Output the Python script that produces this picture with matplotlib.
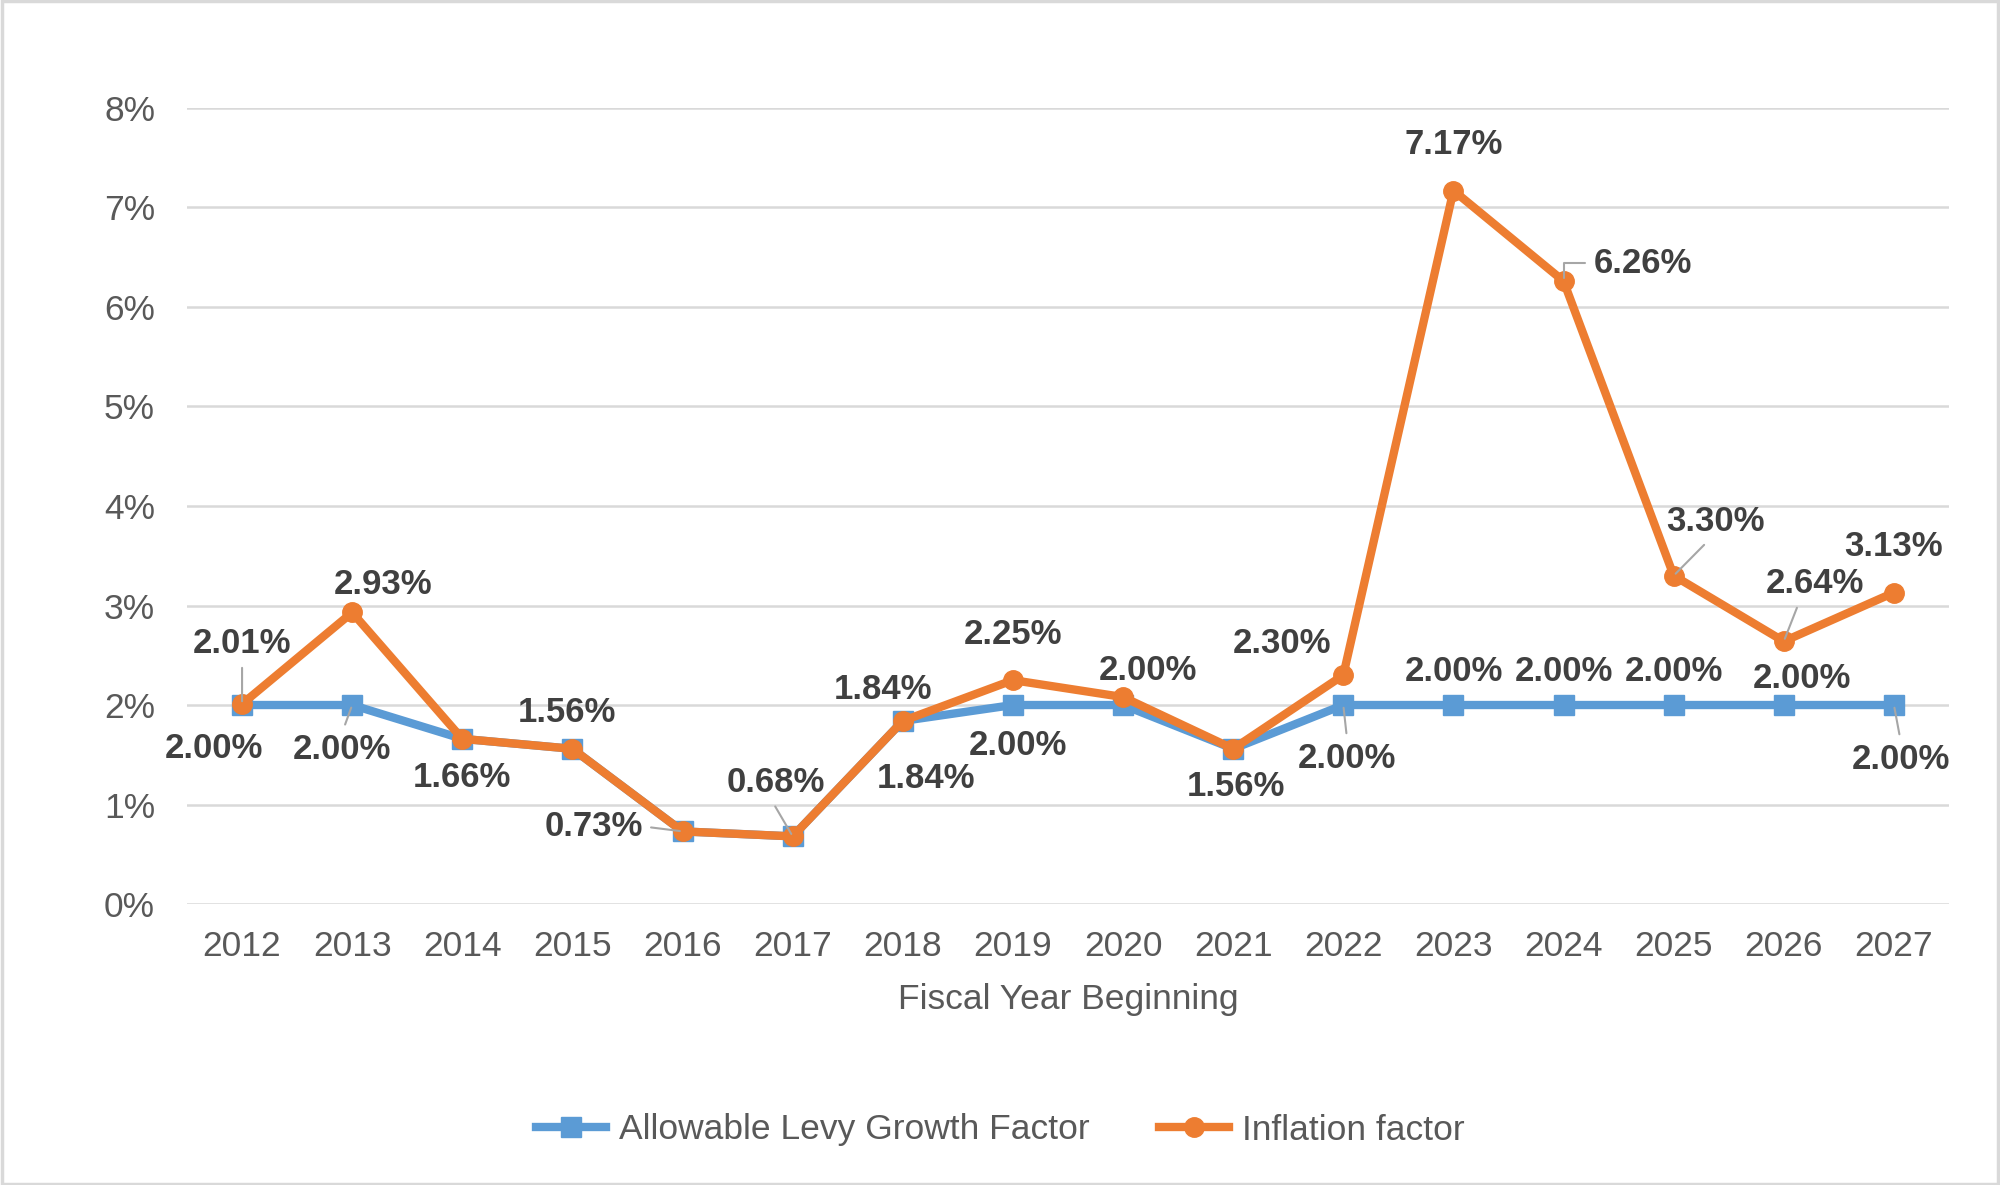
import matplotlib.pyplot as plt
from matplotlib.patches import Rectangle
from matplotlib.ticker import FuncFormatter

plt.rcParams['font.family'] = ['Liberation Sans', 'DejaVu Sans']

years = [str(y) for y in range(2012, 2028)]
levy = [2.00, 2.00, 1.66, 1.56, 0.73, 0.68, 1.84, 2.00, 2.00, 1.56, 2.00, 2.00, 2.00, 2.00, 2.00, 2.00]
inflation = [2.01, 2.93, 1.66, 1.56, 0.73, 0.68, 1.84, 2.25, 2.08, 1.56, 2.30, 7.17, 6.26, 3.30, 2.64, 3.13]

levy_label = "Allowable Levy Growth Factor"
infl_label = "Inflation factor"

blue = "#5B9BD5"
orange = "#ED7D31"
grid_col = "#D9D9D9"
tick_col = "#595959"
lab_col = "#404040"
lead_col = "#A6A6A6"

# label placement: (series, index, dx px, dy px, leader relpos or None)
placements = [
    ("i", 0, 0, -61, (0.5, 0.0)),
    ("l", 0, -28, 43, None),
    ("i", 1, 31, -28, None),
    ("l", 1, -10, 44, (0.5, 1.0)),
    ("l", 2, 0, 39, None),
    ("l", 3, -6, -36, None),
    ("l", 4, -89, -5, (1.0, 0.5)),
    ("l", 5, -17, -54, (0.45, 0.0)),
    ("i", 6, -20, -31, None),
    ("l", 6, 23, 58, None),
    ("i", 7, 0, -46, None),
    ("l", 7, 5, 40, None),
    ("l", 8, 25, -35, None),
    ("l", 9, 3, 38, None),
    ("i", 10, -61, -32, None),
    ("l", 10, 4, 53, (0.5, 1.0)),
    ("l", 11, 0, -34, None),
    ("l", 12, 0, -34, None),
    ("l", 13, 0, -34, None),
    ("l", 14, 18, -27, None),
    ("l", 15, 7, 54, (0.5, 1.0)),
    ("i", 11, 0, -46, None),
    ("i", 12, 79, -18, "elbow"),
    ("i", 13, 42, -54, (0.45, 0.0)),
    ("i", 14, 31, -58, (0.35, 0.0)),
    ("i", 15, 0, -46, None),
]

fig = plt.figure(figsize=(20, 11.85), dpi=100)
ax = fig.add_axes([0.0935, 0.2371, 0.881, 0.6718])

x = list(range(len(years)))
ax.plot(x, levy, color=blue, lw=6, marker="s", ms=14, label=levy_label, zorder=3)
ax.plot(x, inflation, color=orange, lw=6, marker="o", ms=14, label=infl_label, zorder=4)

for ser, i, dx, dy, lead in placements:
    vals = levy if ser == "l" else inflation
    kw = dict(textcoords="offset pixels", ha="center", va="center",
              fontsize=25, fontweight="bold", color=lab_col, zorder=6)
    if lead == "elbow":
        kw["arrowprops"] = dict(arrowstyle="-", color=lead_col, lw=1.5, shrinkA=4, shrinkB=2,
                                relpos=(0.0, 0.5),
                                connectionstyle="angle,angleA=0,angleB=90,rad=0")
    elif lead is not None:
        kw["arrowprops"] = dict(arrowstyle="-", color=lead_col, lw=1.5, shrinkA=4, shrinkB=2,
                                relpos=lead)
    ax.annotate(f"{vals[i]:.2f}%", (i, vals[i]), xytext=(dx, -dy), **kw)

ax.set_xlim(-0.5, len(years) - 0.5)
ax.set_ylim(0, 8)
ax.set_yticks(range(0, 9))
ax.yaxis.set_major_formatter(FuncFormatter(lambda v, p: f"{v:.0f}%"))
ax.set_xticks(x)
ax.set_xticklabels(years)
ax.tick_params(axis="both", length=0, labelsize=25.5, labelcolor=tick_col)
ax.tick_params(axis="x", pad=19)
ax.tick_params(axis="y", pad=23)
ax.grid(axis="y", color=grid_col, lw=1.8)
ax.set_axisbelow(True)
for s in ax.spines.values():
    s.set_visible(False)
ax.set_xlabel("Fiscal Year Beginning", fontsize=25.5, color=tick_col, labelpad=14)

fig.legend(loc="center", bbox_to_anchor=(0.5, 1 - 1130 / 1185), ncol=2, frameon=False,
           fontsize=25.5, labelcolor=tick_col, handlelength=2.0, handletextpad=0.35,
           columnspacing=1.95)

fig.patches.append(Rectangle((0.001, 0.001), 0.998, 0.998, transform=fig.transFigure,
                             fill=False, edgecolor=grid_col, lw=2.5))

fig.savefig("out.png", dpi=100, facecolor="white")
